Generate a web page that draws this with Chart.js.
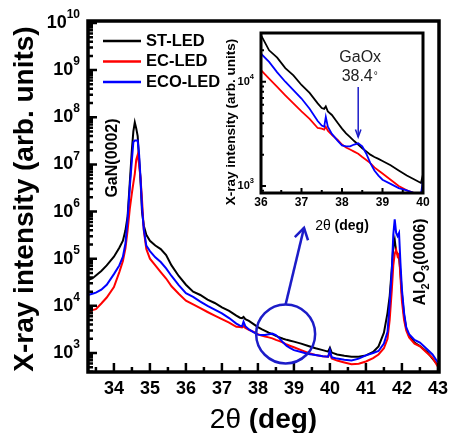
<!DOCTYPE html>
<html>
<head>
<meta charset="utf-8">
<script src="https://cdn.jsdelivr.net/npm/chart.js@4.4.1/dist/chart.umd.min.js"></script>
<style>
  html, body { margin: 0; padding: 0; background: #fff; }
  #wrap { position: relative; width: 449px; height: 433px; }
  #wrap canvas { position: absolute; left: 0; top: 0; }
</style>
</head>
<body>
<div id="wrap">
  <canvas id="xrd" width="449" height="433"></canvas>
  <canvas id="zoom" width="449" height="433"></canvas>
</div>
<script>
// 2theta scan positions (deg)
const twoTheta = [
  33.28, 33.4, 33.5, 33.65, 33.8, 34.0, 34.15, 34.25, 34.32, 34.38,
  34.44, 34.5, 34.54, 34.58, 34.62, 34.66, 34.7, 34.74, 34.78, 34.83,
  34.9, 35.0, 35.15, 35.3, 35.45, 35.6, 35.8, 36.0, 36.2, 36.4,
  36.6, 36.8, 37.0, 37.2, 37.4, 37.5, 37.56, 37.6, 37.65, 37.75,
  37.9, 38.0, 38.1, 38.2, 38.3, 38.4, 38.5, 38.6, 38.7, 38.8,
  38.9, 39.0, 39.2, 39.4, 39.6, 39.8, 39.95, 40.0, 40.05, 40.2,
  40.4, 40.6, 40.8, 41.0, 41.2, 41.35, 41.5, 41.6, 41.66, 41.72,
  41.76, 41.8, 41.84, 41.88, 41.92, 41.96, 42.0, 42.06, 42.12, 42.2,
  42.35, 42.5, 42.7, 42.85, 43.0
];

// intensities (arb. units)
const stLed = [
  3.5e4, 3.8e4, 4.4e4, 5.5e4, 7.2e4, 1.1e5, 1.7e5, 2.4e5, 4.0e5, 7.9e5,
  4.0e6, 2.1e7, 5.0e7, 7.8e7, 5.8e7, 4.0e7, 1.3e7, 4.5e6, 1.0e6, 5.0e5,
  3.2e5, 2.4e5, 1.9e5, 1.6e5, 1.2e5, 7.2e4, 4.3e4, 2.8e4, 2.0e4, 1.7e4,
  1.35e4, 1.15e4, 9300, 7800, 6200, 5600, 5500, 5800, 5200, 4800,
  4000, 3550, 3200, 2950, 2700, 2500, 2300, 2150, 2000, 1900,
  1820, 1740, 1580, 1410, 1260, 1150, 1070, 1290, 1020, 930,
  870, 830, 830, 890, 1050, 1380, 2700, 7100, 1.6e4, 6.3e4,
  1.8e5, 2.5e5, 1.4e5, 1.26e5, 1.1e5, 5.0e4, 1.8e4, 6300, 3300, 2300,
  1660, 1410, 1050, 760, 550
];

const ecLed = [
  6900, 8100, 8500, 1.12e4, 1.5e4, 2.5e4, 5.2e4, 8.9e4, 1.66e5, 4.0e5,
  1.12e6, 2.5e6, 4.0e6, 6.3e6, 1.26e7, 1.6e7, 1.0e7, 5.0e6, 1.8e6, 4.0e5,
  1.6e5, 1.0e5, 7.2e4, 5.2e4, 3.8e4, 2.6e4, 1.8e4, 1.29e4, 1.07e4, 8900,
  7400, 6200, 5200, 4400, 3600, 3550, 3470, 3700, 3400, 3100,
  2750, 2500, 2340, 2240, 2140, 2040, 1900, 1780, 1660, 1510,
  1410, 1320, 1150, 1000, 910, 850, 830, 1000, 760, 690,
  630, 575, 590, 660, 780, 930, 1260, 2000, 5000, 2.2e4,
  7.1e4, 1.26e5, 1.55e5, 1.12e5, 1.26e5, 4.0e4, 1.26e4, 5000, 3000, 2140,
  1580, 1380, 1000, 790, 510
];

const ecoLed = [
  1.7e4, 1.8e4, 1.9e4, 2.2e4, 2.8e4, 4.7e4, 7.2e4, 1.1e5, 2.1e5, 6.8e5,
  3.2e6, 1.26e7, 3.0e7, 3.2e7, 3.2e7, 3.2e7, 1.6e7, 5.0e6, 1.26e6, 4.2e5,
  1.9e5, 1.45e5, 1.07e5, 8.5e4, 6.2e4, 4.3e4, 2.75e4, 1.86e4, 1.55e4, 1.23e4,
  1.0e4, 8300, 6900, 5500, 4200, 3800, 3700, 4600, 3700, 3160,
  2700, 2450, 2400, 2400, 2500, 2570, 2400, 2040, 1660, 1410,
  1260, 1150, 1050, 955, 910, 850, 830, 1150, 810, 760,
  720, 690, 760, 890, 1000, 1100, 1580, 2800, 1.12e4, 5.6e4,
  3.2e5, 6.8e5, 3.5e5, 3.0e5, 3.5e5, 7.9e4, 2.2e4, 7100, 3500, 2500,
  1900, 1660, 1200, 930, 630
];

const seriesNames = ["ST-LED", "EC-LED", "ECO-LED"];
const seriesColors = ["#000000", "#ff0000", "#0000ff"];

const mainXTicks = [34, 35, 36, 37, 38, 39, 40, 41, 42, 43];
const mainYPowers = [3, 4, 5, 6, 7, 8, 9, 10];
const insetXTicks = [36, 37, 38, 39, 40];
const insetYPowers = [3, 4];

const FONT = "Arial, 'Liberation Sans', Helvetica, sans-serif";
const NOTE_BLUE = "#1c1cc8";

function buildDatasets(width) {
  const series = [stLed, ecLed, ecoLed];
  return series.map((vals, i) => ({
    label: seriesNames[i],
    data: twoTheta.map((t, j) => ({ x: t, y: vals[j] })),
    borderColor: seriesColors[i],
    borderWidth: width,
    pointRadius: 0,
    tension: 0,
    order: 2 - i
  }));
}

// "10" with a raised exponent, right edge at xr
function powerLabel(ctx, exp, xr, y, base, sup) {
  ctx.font = `bold ${sup}px ${FONT}`;
  const supW = ctx.measureText(String(exp)).width;
  ctx.textBaseline = "middle";
  ctx.textAlign = "left";
  ctx.fillText(String(exp), xr - supW, y - base * 0.45);
  ctx.font = `bold ${base}px ${FONT}`;
  ctx.textAlign = "right";
  ctx.fillText("10", xr - supW, y);
}

function axisTicks(ctx, chart, xStep, majorLen, minorLen) {
  const a = chart.chartArea, x = chart.scales.x, y = chart.scales.y;
  ctx.beginPath();
  for (let v = Math.ceil(x.min / xStep) * xStep; v <= x.max + 1e-9; v += xStep) {
    const px = x.getPixelForValue(v);
    const len = Math.abs(v - Math.round(v)) < 1e-6 ? majorLen : minorLen;
    ctx.moveTo(px, a.bottom);
    ctx.lineTo(px, a.bottom - len);
  }
  for (let e = 2; e <= 10; e++) {
    for (let k = 1; k <= 9; k++) {
      const val = k * Math.pow(10, e);
      if (val < y.min || val > y.max) continue;
      const py = y.getPixelForValue(val);
      ctx.moveTo(a.left, py);
      ctx.lineTo(a.left + (k === 1 ? majorLen : minorLen), py);
    }
  }
  ctx.stroke();
}

function mixedTitle(ctx, cx, baseline, size, light, heavy) {
  ctx.font = `${size}px ${FONT}`;
  const w1 = ctx.measureText(light).width;
  ctx.font = `bold ${size}px ${FONT}`;
  const w2 = ctx.measureText(heavy).width;
  const x0 = cx - (w1 + w2) / 2;
  ctx.textAlign = "left";
  ctx.textBaseline = "alphabetic";
  ctx.font = `${size}px ${FONT}`;
  ctx.fillText(light, x0, baseline);
  ctx.font = `bold ${size}px ${FONT}`;
  ctx.fillText(heavy, x0 + w1, baseline);
}

function arrowHead(ctx, fx, fy, tx, ty, len, spread) {
  const ang = Math.atan2(ty - fy, tx - fx);
  ctx.beginPath();
  ctx.moveTo(tx - len * Math.cos(ang - spread), ty - len * Math.sin(ang - spread));
  ctx.lineTo(tx, ty);
  ctx.lineTo(tx - len * Math.cos(ang + spread), ty - len * Math.sin(ang + spread));
  ctx.stroke();
}

const mainDecor = {
  id: "mainDecor",
  afterDraw(chart) {
    const { ctx, chartArea: a, scales: { x, y } } = chart;
    ctx.save();
    ctx.strokeStyle = "#000";
    ctx.fillStyle = "#000";
    ctx.lineWidth = 2.5;
    axisTicks(ctx, chart, 0.5, 9, 5);
    ctx.lineWidth = 3.5;
    ctx.strokeRect(a.left, a.top, a.right - a.left, a.bottom - a.top);

    // tick labels
    ctx.font = `bold 18px ${FONT}`;
    ctx.textAlign = "center";
    ctx.textBaseline = "middle";
    mainXTicks.forEach(v => ctx.fillText(String(v), x.getPixelForValue(v), 389));
    mainYPowers.forEach(p => powerLabel(ctx, p, 80, y.getPixelForValue(Math.pow(10, p)), 18, 12));

    // axis titles
    mixedTitle(ctx, (a.left + a.right) / 2, 428, 28, "2\u03b8 ", "(deg)");
    ctx.save();
    ctx.translate(25, 199);
    ctx.rotate(-Math.PI / 2);
    ctx.font = `bold 28px ${FONT}`;
    ctx.textAlign = "center";
    ctx.textBaseline = "middle";
    ctx.fillText("X-ray intensity (arb. units)", 0, 0);
    ctx.restore();

    // legend
    ctx.font = `bold 16.5px ${FONT}`;
    ctx.textAlign = "left";
    ctx.textBaseline = "middle";
    seriesNames.forEach((name, i) => {
      const ly = 41 + i * 20.5;
      ctx.strokeStyle = seriesColors[i];
      ctx.lineWidth = 2.5;
      ctx.beginPath();
      ctx.moveTo(103, ly);
      ctx.lineTo(141, ly);
      ctx.stroke();
      ctx.fillStyle = "#000";
      ctx.fillText(name, 146, ly);
    });

    // peak labels
    ctx.save();
    ctx.translate(113, 158);
    ctx.rotate(-Math.PI / 2);
    ctx.font = `bold 16px ${FONT}`;
    ctx.textAlign = "center";
    ctx.textBaseline = "middle";
    ctx.fillText("GaN(0002)", 0, 0);
    ctx.restore();

    ctx.save();
    ctx.translate(421, 262);
    ctx.rotate(-Math.PI / 2);
    const parts = [["Al", 16, 0], ["2", 11, 5], ["O", 16, 0], ["3", 11, 5], ["(0006)", 16, 0]];
    let total = 0;
    parts.forEach(([t, s]) => { ctx.font = `bold ${s}px ${FONT}`; total += ctx.measureText(t).width; });
    let px = -total / 2;
    ctx.textAlign = "left";
    ctx.textBaseline = "middle";
    parts.forEach(([t, s, dy]) => {
      ctx.font = `bold ${s}px ${FONT}`;
      ctx.fillText(t, px, dy);
      px += ctx.measureText(t).width;
    });
    ctx.restore();

    // circled region and pointer to the zoomed panel
    const cx = x.getPixelForValue(38.77), cy = y.getPixelForValue(2540);
    const tx = x.getPixelForValue(39.28), ty = y.getPixelForValue(4.5e5);
    ctx.strokeStyle = NOTE_BLUE;
    ctx.lineWidth = 2.5;
    ctx.beginPath();
    ctx.arc(cx, cy, 29.5, 0, Math.PI * 2);
    ctx.stroke();
    ctx.beginPath();
    ctx.moveTo(cx, cy - 29.5);
    ctx.lineTo(tx, ty);
    ctx.stroke();
    arrowHead(ctx, cx, cy - 29.5, tx, ty, 13, 0.55);
    ctx.restore();
  }
};

new Chart(document.getElementById("xrd"), {
  type: "line",
  data: { datasets: buildDatasets(2) },
  options: {
    responsive: false,
    animation: false,
    layout: { padding: { left: 0, top: 21, right: 10, bottom: 0 } },
    plugins: { legend: { display: false }, tooltip: { enabled: false } },
    scales: {
      x: {
        type: "linear", min: 33.28, max: 43.03,
        grid: { display: false, drawTicks: false }, border: { display: false },
        ticks: { display: false },
        afterFit: s => { s.height = 61; }
      },
      y: {
        type: "logarithmic", min: 395, max: 1.1e10,
        grid: { display: false, drawTicks: false }, border: { display: false },
        ticks: { display: false },
        afterFit: s => { s.width = 88; }
      }
    }
  },
  plugins: [mainDecor]
});

const insetDecor = {
  id: "insetDecor",
  beforeDatasetsDraw(chart) {
    const { ctx, chartArea: a } = chart;
    ctx.save();
    ctx.fillStyle = "#fff";
    ctx.fillRect(a.left, a.top, a.right - a.left, a.bottom - a.top);
    ctx.restore();
  },
  afterDraw(chart) {
    const { ctx, chartArea: a, scales: { x, y } } = chart;
    ctx.save();
    ctx.strokeStyle = "#000";
    ctx.fillStyle = "#000";
    ctx.lineWidth = 2;
    axisTicks(ctx, chart, 0.5, 5, 3);
    ctx.lineWidth = 3;
    ctx.strokeRect(a.left, a.top, a.right - a.left, a.bottom - a.top);

    ctx.font = `bold 12px ${FONT}`;
    ctx.textAlign = "center";
    ctx.textBaseline = "middle";
    insetXTicks.forEach(v => ctx.fillText(String(v), x.getPixelForValue(v), 203));
    insetYPowers.forEach(p => powerLabel(ctx, p, 254, y.getPixelForValue(Math.pow(10, p)), 11, 7.5));

    mixedTitle(ctx, (a.left + a.right) / 2, 230, 14, "2\u03b8 ", "(deg)");
    ctx.save();
    ctx.translate(231, 122);
    ctx.rotate(-Math.PI / 2);
    ctx.font = `bold 13.5px ${FONT}`;
    ctx.textAlign = "center";
    ctx.textBaseline = "middle";
    ctx.fillText("X-ray intensity (arb. units)", 0, 0);
    ctx.restore();

    // GaOx marker
    const gx = x.getPixelForValue(38.4);
    ctx.fillStyle = "#222";
    ctx.font = `16px ${FONT}`;
    ctx.textAlign = "center";
    ctx.textBaseline = "middle";
    ctx.fillText("GaOx", gx + 2, 58);
    ctx.textAlign = "left";
    const w = ctx.measureText("38.4").width;
    ctx.fillText("38.4", gx - w / 2 - 1, 77);
    ctx.font = `10px ${FONT}`;
    ctx.fillText("\u00b0", gx + w / 2, 76);
    ctx.strokeStyle = NOTE_BLUE;
    ctx.lineWidth = 1.5;
    ctx.beginPath();
    ctx.moveTo(gx, 87);
    ctx.lineTo(gx, 137);
    ctx.stroke();
    arrowHead(ctx, gx, 87, gx, 137, 8, 0.35);
    ctx.restore();
  }
};

new Chart(document.getElementById("zoom"), {
  type: "line",
  data: { datasets: buildDatasets(1.8) },
  options: {
    responsive: false,
    animation: false,
    layout: { padding: { left: 221, top: 33, right: 26, bottom: 200 } },
    plugins: { legend: { display: false }, tooltip: { enabled: false } },
    scales: {
      x: {
        type: "linear", min: 36, max: 40,
        grid: { display: false, drawTicks: false }, border: { display: false },
        ticks: { display: false },
        afterFit: s => { s.height = 40; }
      },
      y: {
        type: "logarithmic", min: 858, max: 29300,
        grid: { display: false, drawTicks: false }, border: { display: false },
        ticks: { display: false },
        afterFit: s => { s.width = 40; }
      }
    }
  },
  plugins: [insetDecor]
});
</script>
</body>
</html>
